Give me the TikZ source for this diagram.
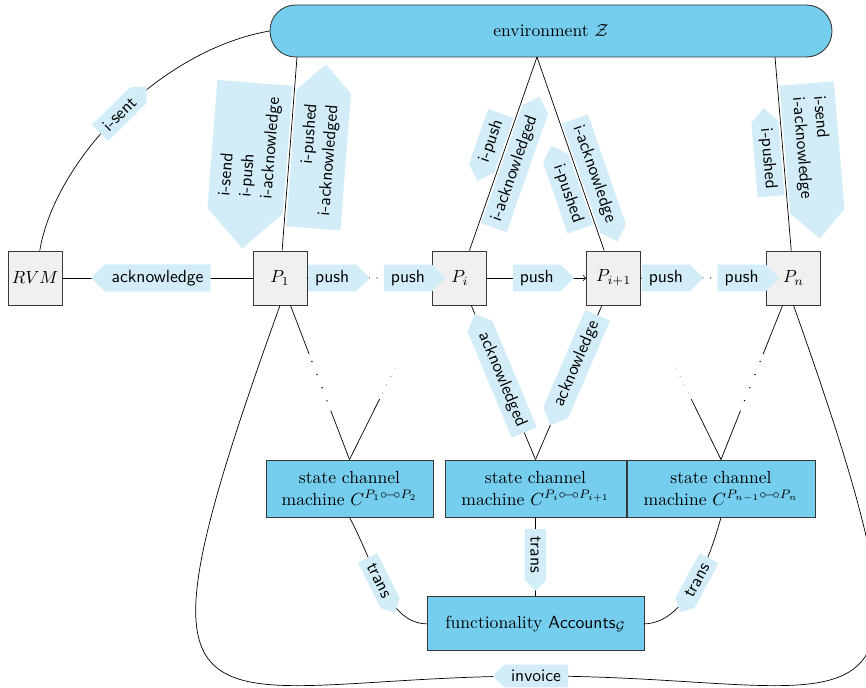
\documentclass[tikz,border=0pt]{standalone}
\usepackage{amsmath,amssymb}
\usepackage{tikz}
\usetikzlibrary{positioning,calc,shapes.symbols}
\definecolor{colorenv}  {RGB}{118,206,239}
\definecolor{colormsg}  {RGB}{210,237,248}
\definecolor{colorparty}{RGB}{240,240,240}
\definecolor{colorframe}{RGB}{ 55, 55, 55}
\newcommand{\chanlink}{\mathrel{\circ\mkern-3mu\relbar\mkern-3mu\circ}}

\begin{document}
\begin{tikzpicture}[
    x=0.02cm, y=-0.02cm,
    party/.style={draw=colorframe,line width=0.5pt,fill=colorparty,minimum size=1.08cm,inner sep=0pt},
    machine/.style={draw=colorframe,line width=0.5pt,fill=colorenv,align=center,minimum height=1.14cm,inner xsep=2pt},
    msg/.style={shape=signal,fill=colormsg,font=\sffamily,inner xsep=4pt,inner ysep=3.2pt,signal pointer angle=90},
    fwd/.style={msg,signal to=east},
    bwd/.style={msg,signal to=west},
    multi/.style={inner xsep=7.5pt,inner ysep=5pt},
    rowdots/.style={dash pattern=on 0pt off 4.4pt,line cap=round,line width=0.8pt},
    gapdots/.style={dash pattern=on 0pt off 8pt,line cap=round,line width=0.9pt},
    fadedots/.style={dash pattern=on 0pt off 5.3pt,line cap=round,line width=0.6pt,gray},
]
    \useasboundingbox (0,0) rectangle (866,688);

    % parties
    \node[party]                    (P1)  at (280,278) {$P_1$};
    \node[party,left=3.8cm of P1]   (rvm) {$RVM$};
    \node[party,right=2.5cm of P1]  (Pi)  {$P_i$};
    \node[party,right=1.98cm of Pi] (Pi1) {$P_{i+1}$};
    \node[party,right=2.5cm of Pi1] (Pn)  {$P_n$};

    % environment
    \node[draw=colorframe,line width=0.5pt,fill=colorenv,rounded corners=14.5pt,
          minimum width=11.24cm,minimum height=1.04cm] (env) at (551,31) {environment $\mathcal{Z}$};

    % state channels and accounts
    \node[machine,minimum width=3.34cm] (sc1) at (349.5,488.5) {state channel\\machine $C^{P_1\chanlink P_2}$};
    \node[machine,minimum width=3.62cm] (sc2) at (535.5,488.5) {state channel\\machine $C^{P_i\chanlink P_{i+1}}$};
    \node[machine,minimum width=3.76cm] (sc3) at (721,488.5)   {state channel\\machine $C^{P_{n-1}\chanlink P_n}$};
    \node[machine,minimum width=4.34cm,minimum height=1.08cm,below=1.58cm of sc2] (acc)
        {functionality $\mathsf{Accounts}_{\mathcal{G}}$};

    \coordinate (eP1)    at (297,57);
    \coordinate (eMid)   at (537,57);
    \coordinate (ePn)    at (775,57);
    \coordinate (toP2)   at (398,362);
    \coordinate (toPn1)  at (673,362);
    \coordinate (invmid) at (536,676);

    % row of parties
    \draw (rvm) -- node[bwd]{acknowledge} (P1);
    \draw[rowdots] (P1) -- node[fwd,pos=0,anchor=west]{push} node[fwd,pos=1,anchor=east,xshift=0.28cm]{push} (Pi);
    \draw[->] (Pi) -- node[fwd]{push} (Pi1);
    \draw[rowdots] (Pi1) -- node[fwd,pos=0,anchor=west]{push} node[fwd,pos=1,anchor=east,xshift=0.28cm]{push} (Pn);

    % environment links
    \draw (rvm) .. controls (55,160) and (160,50) .. node[fwd,sloped,pos=.5]{i-sent} (env.west);
    \draw (P1) -- node[bwd,multi,sloped,pos=.52,above=1pt,align=left]{i-send\\i-push\\i-acknowledge}
                  node[fwd,multi,sloped,pos=.48,below=1pt,align=right]{i-pushed\\i-acknowledged} (eP1);
    \draw (Pi) -- node[bwd,sloped,pos=.54,above=1pt]{i-push}
                  node[fwd,sloped,pos=.45,below=1pt]{i-acknowledged} (eMid);
    \draw (Pi1) -- node[bwd,sloped,pos=.32,below=1pt]{i-pushed}
                   node[fwd,sloped,pos=.37,above=1pt]{i-acknowledge} (eMid);
    \draw (Pn) -- node[bwd,sloped,pos=.48,below=1pt]{i-pushed}
                  node[fwd,multi,sloped,pos=.52,above=1pt,align=left]{i-send\\i-acknowledge} (ePn);

    % parties to state channels
    \draw (P1) -- ($(P1)!.42!(sc1.north)$);
    \draw[gapdots] ($(P1)!.46!(sc1.north)$) -- ($(P1)!.70!(sc1.north)$);
    \draw ($(P1)!.73!(sc1.north)$) -- (sc1.north);
    \draw (sc1.north) -- ($(sc1.north)!.62!(toP2)$);
    \draw[fadedots] ($(sc1.north)!.68!(toP2)$) -- (toP2);

    \draw (Pi) -- node[bwd,sloped,pos=.48]{acknowledged} (sc2.north);
    \draw (Pi1) -- node[bwd,sloped,pos=.38]{acknowledge} (sc2.north);

    \draw (Pn) -- ($(Pn)!.42!(sc3.north)$);
    \draw[gapdots] ($(Pn)!.46!(sc3.north)$) -- ($(Pn)!.70!(sc3.north)$);
    \draw ($(Pn)!.73!(sc3.north)$) -- (sc3.north);
    \draw (sc3.north) -- ($(sc3.north)!.62!(toPn1)$);
    \draw[fadedots] ($(sc3.north)!.68!(toPn1)$) -- (toPn1);

    % state channels to accounts
    \draw (sc1.south) .. controls (375,565) and (387,623) .. node[fwd,sloped,pos=.44]{trans} (acc.west);
    \draw (sc2.south) -- node[fwd,sloped,pos=.47]{trans} (acc.north);
    \draw (sc3.south) .. controls (708,565) and (684,623) .. node[bwd,sloped,pos=.44]{trans} (acc.east);

    % invoice
    \draw (P1.south) .. controls (109,780) and (200,676) .. (invmid)
                     .. controls (872,676) and (962,780) .. (Pn.south);
    \node[bwd] (inv) at (invmid) {invoice};

\end{tikzpicture}
\end{document}
